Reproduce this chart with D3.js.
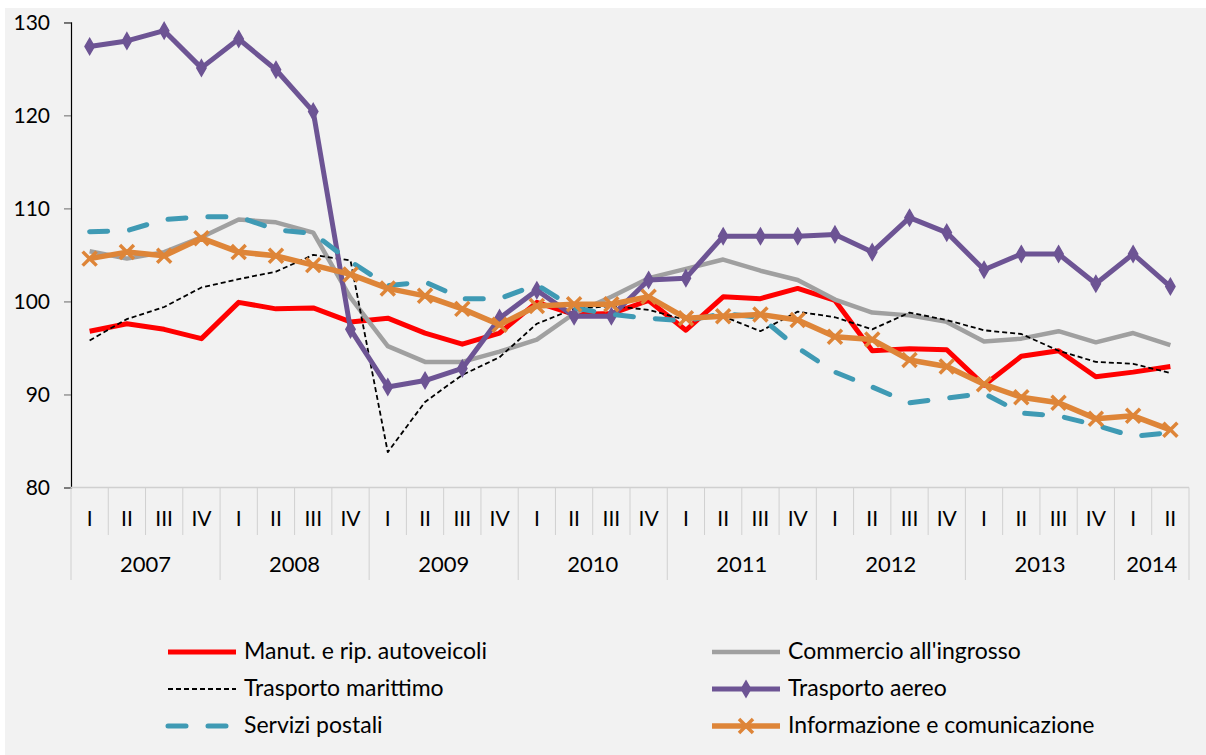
<!DOCTYPE html>
<html>
<head>
<meta charset="utf-8">
<script src="https://cdn.jsdelivr.net/npm/d3@7"></script>
<style>
  body { margin: 0; background: #fff; }
  svg text { font-family: Lato, "Noto Sans", sans-serif; fill: #000; }
</style>
</head>
<body>
<svg id="chart" width="1206" height="755"></svg>
<script>
  var years = ['2007', '2008', '2009', '2010', '2011', '2012', '2013', '2014'];
  var quarterNames = ['I', 'II', 'III', 'IV'];
  var yTicks = [80, 90, 100, 110, 120, 130];

  var manutenzione = [96.8, 97.6, 97.0, 96.0, 99.9, 99.2, 99.3, 97.8, 98.2, 96.6,
    95.4, 96.6, 99.9, 98.6, 98.7, 100.1, 96.9, 100.5, 100.3, 101.4,
    100.1, 94.7, 94.9, 94.8, 91.0, 94.1, 94.7, 91.9, 92.4, 93.0];
  var commercio = [105.4, 104.6, 105.3, 106.9, 108.8, 108.5, 107.4, 100.4, 95.2, 93.5,
    93.5, 94.6, 95.9, 98.7, 100.5, 102.5, 103.5, 104.5, 103.3, 102.3,
    100.2, 98.8, 98.5, 97.8, 95.7, 96.0, 96.8, 95.6, 96.6, 95.3];
  var marittimo = [95.8, 98.1, 99.4, 101.5, 102.4, 103.2, 105.0, 104.4, 83.8, 89.2,
    92.1, 94.0, 97.6, 99.2, 99.5, 99.1, 98.0, 98.4, 96.8, 98.9,
    98.3, 97.0, 98.8, 98.0, 96.9, 96.5, 94.7, 93.5, 93.3, 92.3];
  var aereo = [127.4, 128.0, 129.1, 125.1, 128.2, 124.9, 120.4, 97.0, 90.8, 91.5,
    92.8, 98.2, 101.2, 98.4, 98.4, 102.3, 102.5, 107.0, 107.0, 107.0,
    107.2, 105.3, 109.0, 107.4, 103.4, 105.1, 105.1, 101.9, 105.1, 101.6];
  var postali = [107.5, 107.6, 108.8, 109.1, 109.1, 107.7, 107.3, 104.3, 101.7, 102.1,
    100.3, 100.3, 101.8, 99.3, 98.6, 98.2, 97.9, 98.7, 98.3, 95.0,
    92.4, 90.8, 89.1, 89.6, 90.1, 88.0, 87.7, 86.7, 85.5, 85.9];
  var informazione = [104.6, 105.3, 104.9, 106.8, 105.3, 104.9, 103.9, 102.9, 101.4, 100.6,
    99.2, 97.5, 99.5, 99.7, 99.7, 100.5, 98.2, 98.4, 98.6, 98.0,
    96.2, 95.9, 93.7, 93.0, 91.1, 89.7, 89.1, 87.4, 87.7, 86.2];

  // quarter keys: 2007-I ... 2014-II
  var quarters = [];
  years.forEach(function (yr) {
    quarterNames.forEach(function (q) {
      if (quarters.length < manutenzione.length) quarters.push(yr + '-' + q);
    });
  });

  var series = [
    { label: 'Manut. e rip. autoveicoli', values: manutenzione, color: '#ff0000', width: 5, dash: null, marker: null },
    { label: "Commercio all'ingrosso", values: commercio, color: '#a0a0a0', width: 4.5, dash: null, marker: null },
    { label: 'Trasporto marittimo', values: marittimo, color: '#000000', width: 1.8, dash: '5,3', marker: null },
    { label: 'Trasporto aereo', values: aereo, color: '#6d5494', width: 5, dash: null, marker: 'diamond' },
    { label: 'Servizi postali', values: postali, color: '#3f9ab4', width: 5, dash: '18,22', marker: null },
    { label: 'Informazione e comunicazione', values: informazione, color: '#de8538', width: 5.5, dash: null, marker: 'x' }
  ];

  var svg = d3.select('#chart');

  svg.append('rect')
    .attr('x', 5).attr('y', 8)
    .attr('width', 1201).attr('height', 747)
    .style('fill', '#f2f2f2');

  var plotLeft = 71, plotRight = 1189, plotTop = 22.3, plotBottom = 487.5;

  var x = d3.scaleBand().domain(quarters).range([plotLeft, plotRight]);
  var y = d3.scaleLinear().domain([80, 130]).range([plotBottom, plotTop]);

  // y axis
  var yAxis = svg.append('g')
    .attr('transform', 'translate(' + plotLeft + ',0)')
    .call(d3.axisLeft(y).tickValues(yTicks).tickSize(7).tickPadding(14).tickFormat(d3.format('d')));
  yAxis.select('.domain').attr('stroke', '#000').attr('stroke-width', 1.2);
  yAxis.selectAll('.tick line').attr('stroke', '#7f7f7f').attr('stroke-width', 1.2);
  yAxis.selectAll('.tick text').style('font-size', '21px').attr('fill', '#000');

  // x axis: baseline, quarter & year separators
  var xg = svg.append('g').attr('class', 'xaxis');
  xg.append('line')
    .attr('x1', plotLeft).attr('x2', plotRight)
    .attr('y1', plotBottom).attr('y2', plotBottom)
    .attr('stroke', '#d0d0d0').attr('stroke-width', 1.5);

  quarters.forEach(function (q) {
    var x0 = x(q);
    var isYearStart = q.split('-')[1] === 'I';
    xg.append('line')
      .attr('x1', x0).attr('x2', x0)
      .attr('y1', plotBottom).attr('y2', isYearStart ? 580 : 535)
      .attr('stroke', '#d0d0d0').attr('stroke-width', 1);
    xg.append('text')
      .attr('x', x0 + x.bandwidth() / 2)
      .attr('y', 521)
      .attr('text-anchor', 'middle')
      .attr('dominant-baseline', 'middle')
      .style('font-size', '21px')
      .text(q.split('-')[1]);
  });
  xg.append('line')
    .attr('x1', plotRight).attr('x2', plotRight)
    .attr('y1', plotBottom).attr('y2', 580)
    .attr('stroke', '#d0d0d0').attr('stroke-width', 1);

  years.forEach(function (yr) {
    var qs = quarters.filter(function (q) { return q.indexOf(yr) === 0; });
    var x0 = x(qs[0]);
    var x1 = x(qs[qs.length - 1]) + x.bandwidth();
    xg.append('text')
      .attr('x', (x0 + x1) / 2)
      .attr('y', 566)
      .attr('text-anchor', 'middle')
      .attr('dominant-baseline', 'middle')
      .style('font-size', '22px')
      .text(yr);
  });

  var line = d3.line()
    .x(function (d, i) { return x(quarters[i]) + x.bandwidth() / 2; })
    .y(function (d) { return y(d); });

  var diamond = d3.symbol().type(d3.symbolDiamond).size(75);

  function drawMarker(g, type, color, cx, cy) {
    if (type === 'diamond') {
      g.append('path')
        .attr('d', diamond)
        .attr('transform', 'translate(' + cx + ',' + cy + ')')
        .style('fill', color).style('stroke', color).style('stroke-width', 1.5);
    } else if (type === 'x') {
      var s = 7;
      g.append('path')
        .attr('d', 'M' + (cx - s) + ',' + (cy - s) + 'L' + (cx + s) + ',' + (cy + s) +
          'M' + (cx - s) + ',' + (cy + s) + 'L' + (cx + s) + ',' + (cy - s))
        .style('fill', 'none').style('stroke', color).style('stroke-width', 3.5);
    }
  }

  var plot = svg.append('g').attr('class', 'plot');
  series.forEach(function (s) {
    var g = plot.append('g');
    g.append('path')
      .datum(s.values)
      .attr('d', line)
      .style('fill', 'none')
      .style('stroke', s.color)
      .style('stroke-width', s.width)
      .style('stroke-linejoin', 'round')
      .style('stroke-linecap', s.dash && s.width > 3 ? 'round' : 'butt')
      .style('stroke-dasharray', s.dash);
    if (s.marker) {
      s.values.forEach(function (v, i) {
        drawMarker(g, s.marker, s.color, x(quarters[i]) + x.bandwidth() / 2, y(v));
      });
    }
  });

  // legend
  var legendPos = [
    { lx: 168, ly: 652 }, { lx: 712, ly: 652 },
    { lx: 168, ly: 689 }, { lx: 712, ly: 689 },
    { lx: 168, ly: 726 }, { lx: 712, ly: 726 }
  ];
  var legend = svg.append('g').attr('class', 'legend');
  series.forEach(function (s, i) {
    var p = legendPos[i];
    var g = legend.append('g');
    var len = 68;
    g.append('line')
      .attr('x1', p.lx).attr('x2', p.lx + len)
      .attr('y1', p.ly).attr('y2', p.ly)
      .style('stroke', s.color)
      .style('stroke-width', s.width)
      .style('stroke-linecap', s.dash && s.width > 3 ? 'round' : 'butt')
      .style('stroke-dasharray', s.dash);
    if (s.marker) drawMarker(g, s.marker, s.color, p.lx + len / 2, p.ly);
    g.append('text')
      .attr('x', p.lx + len + 8)
      .attr('y', p.ly + 1)
      .attr('dominant-baseline', 'middle')
      .style('font-size', '23px')
      .text(s.label);
  });
</script>
</body>
</html>
